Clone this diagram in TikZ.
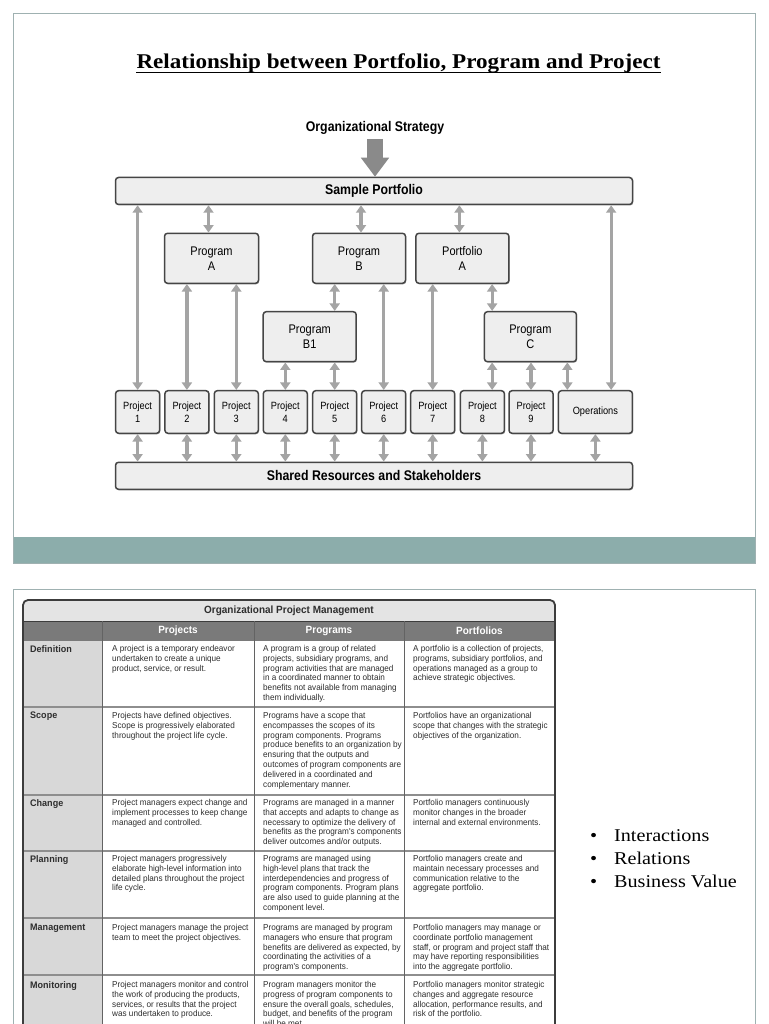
\documentclass[tikz,border=0pt]{standalone}
\usepackage{fontspec}
\setmainfont{Liberation Serif}
\newfontfamily\condsans[FakeStretch=0.88]{Liberation Sans}
\newfontfamily\tabsans[FakeStretch=0.95]{Liberation Sans}
\newfontfamily\titleserif[FakeStretch=1.1]{Liberation Serif}
\newfontfamily\bulserif[FakeStretch=1.12]{Liberation Serif}
\usetikzlibrary{arrows.meta,calc,shadows}
\definecolor{slideline}{HTML}{9FB1B1}
\definecolor{band}{HTML}{8CADAB}
\definecolor{boxfill}{HTML}{EEEEEE}
\definecolor{boxborder}{HTML}{454545}
\definecolor{conngray}{HTML}{A4A4A4}
\definecolor{bigarrow}{HTML}{8A8A8A}
\definecolor{tabborder}{HTML}{3C3C3C}
\definecolor{titlefill}{HTML}{E4E4E4}
\definecolor{headfill}{HTML}{7A7A7A}
\definecolor{labelfill}{HTML}{D8D8D8}
\definecolor{rowline}{HTML}{8E8E8E}
\definecolor{tabtext}{HTML}{2E2E2E}
\begin{document}
\begin{tikzpicture}[x=1pt,y=-1pt,
  box/.style={draw=boxborder, fill=boxfill, line width=1.5pt, rounded corners=3pt, inner sep=0pt, align=center,
    drop shadow={shadow xshift=0.7pt, shadow yshift=-1pt, opacity=0.45, fill=black!70}},
  progbox/.style={box, minimum width=93pt, minimum height=50pt, font=\condsans\fontsize{12.5}{15}\selectfont},
  projbox/.style={box, minimum width=44pt, minimum height=42.6pt, font=\condsans\fontsize{10.5}{12.7}\selectfont},
  widebox/.style={box, minimum width=517pt, minimum height=27pt, font=\condsans\bfseries\fontsize{14}{16}\selectfont},
  conn/.style={draw=conngray, line width=3.2pt, {Triangle[width=10pt,length=7.5pt]}-{Triangle[width=10pt,length=7.5pt]}},
  celltext/.style={anchor=north west, inner sep=0pt, align=left, font=\tabsans\fontsize{8.6}{9.8}\selectfont, text=tabtext},
  rowlabel/.style={anchor=north west, inner sep=0pt, font=\tabsans\bfseries\fontsize{9.5}{11}\selectfont, text=tabtext},
  colhead/.style={inner sep=0pt, font=\tabsans\bfseries\fontsize{10.5}{12}\selectfont, text=white},
  bul/.style={anchor=base west, inner sep=0pt, font=\bulserif\fontsize{18}{22}\selectfont}
]
\useasboundingbox (0,0) rectangle (768,1024);
\clip (0,0) rectangle (768,1024);
\fill[white] (0,0) rectangle (768,1024);

% ---------- slide 1 ----------
\fill[band] (13,537) rectangle (755,563);
\draw[slideline, line width=0.8pt] (13,13) rectangle (755,563);

\node[anchor=base, inner sep=0pt, font=\titleserif\bfseries\fontsize{21}{25}\selectfont] (title) at (398.5,69)
  {Relationship between Portfolio, Program and Project};
\draw[line width=1.1pt] ([yshift=-3.5pt]title.base west) -- ([yshift=-3.5pt]title.base east);

\node[inner sep=0pt, font=\condsans\bfseries\fontsize{14}{16}\selectfont] (strat) at (375,128) {Organizational Strategy};

\node[widebox] (sp) at (374,191) {Sample Portfolio};
\draw[draw=bigarrow, line width=16pt, shorten <=4pt, -{Triangle[width=27pt,length=19pt]}] (strat.south) -- (sp.north -| strat.south);

\node[progbox, minimum width=94pt] (pA) at (211.5,258.3) {Program\\A};
\node[progbox] (pB) at (359,258.3) {Program\\B};
\node[progbox] (pfA) at (462.4,258.3) {Portfolio\\A};
\node[progbox] (pB1) at (309.7,336.7) {Program\\B1};
\node[progbox, minimum width=92pt] (pC) at (530.4,336.7) {Program\\C};

\foreach \i/\x in {1/137.6,2/186.9,3/236.3,4/285.3,5/334.7,6/383.7,7/432.7,8/482.4,9/531.0}
  \node[projbox] (p\i) at (\x,412) {Project\\\i};
\node[projbox, minimum width=74pt] (ops) at (595.4,412) {Operations};

\node[widebox] (sr) at (374,475.8) {Shared Resources and Stakeholders};

% column references
\coordinate (colC) at ($(pC.west)+(8.5,0)$);
\coordinate (colO1) at ($(ops.west)+(9.7,0)$);
\coordinate (colO2) at ($(ops.east)+(-22,0)$);

% connectors
\draw[conn] (sp.south -| p1) -- (p1.north);
\draw[conn] ([xshift=-3pt]sp.south -| pA) -- ([xshift=-3pt]pA.north);
\draw[conn] ([xshift=2pt]sp.south -| pB) -- ([xshift=2pt]pB.north);
\draw[conn] ([xshift=-3pt]sp.south -| pfA) -- ([xshift=-3pt]pfA.north);
\draw[conn] (sp.south -| colO2) -- (ops.north -| colO2);

\draw[conn] (pA.south -| p2) -- (p2.north);
\draw[conn] (pA.south -| p3) -- (p3.north);
\draw[conn] (pB.south -| p5) -- (pB1.north -| p5);
\draw[conn] (pB.south -| p6) -- (p6.north);
\draw[conn] (pB1.south -| p4) -- (p4.north);
\draw[conn] (pB1.south -| p5) -- (p5.north);
\draw[conn] (pfA.south -| p7) -- (p7.north);
\draw[conn] (pfA.south -| colC) -- (pC.north -| colC);
\draw[conn] (pC.south -| colC) -- (p8.north -| colC);
\draw[conn] (pC.south -| p9) -- (p9.north);
\draw[conn] (pC.south -| colO1) -- (ops.north -| colO1);

\foreach \n in {p1,p2,p3,p4,p5,p6,p7,p8,p9,ops}
  \draw[conn] (\n.south) -- (sr.north -| \n);

% ---------- slide 2 ----------
\draw[slideline, line width=0.8pt] (13,1040) -- (13,589) -- (755,589) -- (755,1040);

\fill[titlefill, rounded corners=5pt] (23,600) rectangle (555,632);
\fill[headfill] (23,621) rectangle (555,641);
\fill[labelfill] (23,641) rectangle (102,1040);
\fill[white] (102,641) rectangle (555,1040);
\foreach \r in {707,795,851,918,975}
  \draw[rowline, line width=1.6pt] (23,\r) -- (555,\r);
\draw[tabborder, line width=0.9pt] (23,621) -- (555,621);
\foreach \c in {102,254,404}
  \draw[tabborder!80, line width=0.8pt] (\c,621) -- (\c,1040);
\draw[tabborder, line width=1.8pt, rounded corners=5pt] (23,1040) -- (23,600) -- (555,600) -- (555,1040);

\node[inner sep=0pt, font=\tabsans\bfseries\fontsize{10.5}{12}\selectfont, text=tabtext] (opm) at (289,610.5) {Organizational Project Management};
\node[colhead] (hproj) at (178,631) {Projects};
\node[colhead] (hprog) at (329,631) {Programs};
\node[colhead] (hport) at (479.5,631) {Portfolios};

% Definition
\node[rowlabel] (lDef) at (30,645) {Definition};
\node[celltext] (dA) at (112,645) {A project is a temporary endeavor\\undertaken to create a unique\\product, service, or result.};
\node[celltext] (dB) at (263,645) {A program is a group of related\\projects, subsidiary programs, and\\program activities that are managed\\in a coordinated manner to obtain\\benefits not available from managing\\them individually.};
\node[celltext] (dC) at (413,645) {A portfolio is a collection of projects,\\programs, subsidiary portfolios, and\\operations managed as a group to\\achieve strategic objectives.};

% Scope
\node[rowlabel] (lSc) at (30,712) {Scope};
\node[celltext] (sA) at (112,712) {Projects have defined objectives.\\Scope is progressively elaborated\\throughout the project life cycle.};
\node[celltext] (sB) at (263,712) {Programs have a scope that\\encompasses the scopes of its\\program components. Programs\\produce benefits to an organization by\\ensuring that the outputs and\\outcomes of program components are\\delivered in a coordinated and\\complementary manner.};
\node[celltext] (sC) at (413,712) {Portfolios have an organizational\\scope that changes with the strategic\\objectives of the organization.};

% Change
\node[rowlabel] (lCh) at (30,799) {Change};
\node[celltext] (cA) at (112,799) {Project managers expect change and\\implement processes to keep change\\managed and controlled.};
\node[celltext] (cB) at (263,799) {Programs are managed in a manner\\that accepts and adapts to change as\\necessary to optimize the delivery of\\benefits as the program's components\\deliver outcomes and/or outputs.};
\node[celltext] (cC) at (413,799) {Portfolio managers continuously\\monitor changes in the broader\\internal and external environments.};

% Planning
\node[rowlabel] (lPl) at (30,855) {Planning};
\node[celltext] (plA) at (112,855) {Project managers progressively\\elaborate high-level information into\\detailed plans throughout the project\\life cycle.};
\node[celltext] (plB) at (263,855) {Programs are managed using\\high-level plans that track the\\interdependencies and progress of\\program components. Program plans\\are also used to guide planning at the\\component level.};
\node[celltext] (plC) at (413,855) {Portfolio managers create and\\maintain necessary processes and\\communication relative to the\\aggregate portfolio.};

% Management
\node[rowlabel] (lMg) at (30,924) {Management};
\node[celltext] (mA) at (112,924) {Project managers manage the project\\team to meet the project objectives.};
\node[celltext] (mB) at (263,924) {Programs are managed by program\\managers who ensure that program\\benefits are delivered as expected, by\\coordinating the activities of a\\program's components.};
\node[celltext] (mC) at (413,924) {Portfolio managers may manage or\\coordinate portfolio management\\staff, or program and project staff that\\may have reporting responsibilities\\into the aggregate portfolio.};

% Monitoring
\node[rowlabel] (lMo) at (30,981) {Monitoring};
\node[celltext] (moA) at (112,981) {Project managers monitor and control\\the work of producing the products,\\services, or results that the project\\was undertaken to produce.};
\node[celltext] (moB) at (263,981) {Program managers monitor the\\progress of program components to\\ensure the overall goals, schedules,\\budget, and benefits of the program\\will be met.};
\node[celltext] (moC) at (413,981) {Portfolio managers monitor strategic\\changes and aggregate resource\\allocation, performance results, and\\risk of the portfolio.};

% bullets
\node[bul] (b1) at (590,841) {\makebox[24pt][l]{\textbullet}Interactions};
\node[bul] (b2) at (590,864) {\makebox[24pt][l]{\textbullet}Relations};
\node[bul] (b3) at (590,887) {\makebox[24pt][l]{\textbullet}Business Value};
\end{tikzpicture}
\end{document}
